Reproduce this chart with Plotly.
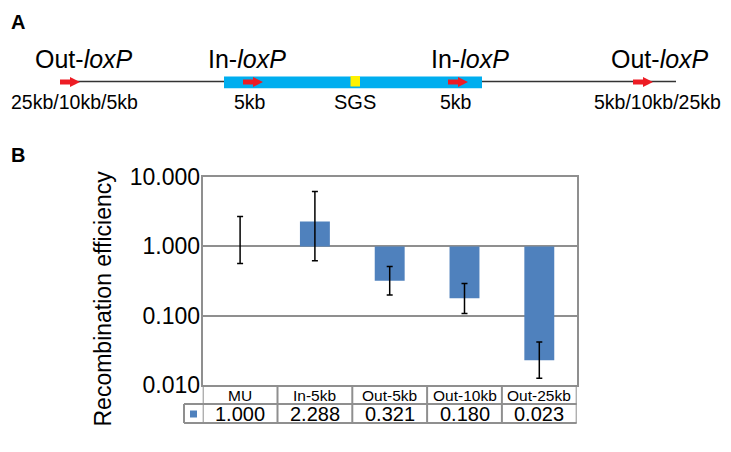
import plotly.graph_objects as go

# ---------------- data ----------------
categories = ["MU", "In-5kb", "Out-5kb", "Out-10kb", "Out-25kb"]
efficiency = [1.000, 2.288, 0.321, 0.180, 0.023]
err_high = [2.70, 6.20, 0.515, 0.292, 0.042]
err_low = [0.57, 0.62, 0.200, 0.108, 0.0126]
value_labels = ["1.000", "2.288", "0.321", "0.180", "0.023"]
y_tickvals = [0.01, 0.1, 1, 10]
y_ticktext = ["0.010", "0.100", "1.000", "10.000"]

# diagram (panel A) content
site_labels = ["Out-<i>loxP</i>", "In-<i>loxP</i>", "In-<i>loxP</i>", "Out-<i>loxP</i>"]
site_sizes = ["25kb/10kb/5kb", "5kb", "5kb", "5kb/10kb/25kb"]

W, H = 731, 452
OFF = 8  # page body margin offset of the rendered figure
FONT = "Arial, Liberation Sans, sans-serif"
BAR_BLUE = "#4F81BD"
GRID = "#8f8f8f"

fig = go.Figure()

fig.add_trace(go.Bar(
    x=categories,
    y=[v - 1 for v in efficiency],
    base=[1] * len(efficiency),
    marker=dict(color=BAR_BLUE, line=dict(width=0)),
    width=0.4,
    showlegend=False,
    hoverinfo="skip",
))

fig.add_trace(go.Scatter(
    x=categories,
    y=efficiency,
    mode="markers",
    marker=dict(size=1, color="rgba(0,0,0,0)"),
    error_y=dict(type="data", symmetric=False,
                 array=[h - v for h, v in zip(err_high, efficiency)],
                 arrayminus=[v - l for l, v in zip(err_low, efficiency)],
                 color="black", thickness=1.5, width=3),
    showlegend=False,
    hoverinfo="skip",
))

fig.add_trace(go.Scatter(x=[OFF + 1], y=[OFF + 1], xaxis="x2", yaxis="y2",
                         mode="markers",
                         marker=dict(size=1, color="rgba(0,0,0,0)"),
                         showlegend=False, hoverinfo="skip"))

# target page pixel positions of the plot frame
px_l, px_r = 202.7, 576.7
px_t, px_b = 177.0, 385.3

fig.update_layout(
    template="none",
    width=W, height=H, autosize=False,
    margin=dict(l=0, r=0, t=0, b=0, pad=0, autoexpand=False),
    showlegend=False,
    paper_bgcolor="white", plot_bgcolor="rgba(0,0,0,0)",
    font=dict(family=FONT, color="black"),
    xaxis=dict(domain=[(px_l - OFF) / W, (px_r - OFF) / W], type="category",
               range=[-0.5, 4.5],
               showticklabels=False, ticks="", showgrid=False, automargin=False,
               showline=True, mirror=True, linecolor=GRID, linewidth=2,
               zeroline=False),
    yaxis=dict(domain=[1 - (px_b - OFF) / H, 1 - (px_t - OFF) / H], type="log",
               range=[-2, 1],
               tickvals=y_tickvals, ticktext=y_ticktext, ticks="", automargin=False,
               ticklabelstandoff=-4,
               tickfont=dict(size=23, family=FONT, color="black"),
               showgrid=True, gridcolor=GRID, gridwidth=1.5,
               showline=True, mirror=True, linecolor=GRID, linewidth=2,
               zeroline=False),
    # overlay axes in page-pixel units for the diagram and table
    xaxis2=dict(domain=[0, 1], range=[OFF, W + OFF], visible=False, anchor="y2",
                automargin=False),
    yaxis2=dict(domain=[0, 1], range=[H + OFF, OFF], visible=False, anchor="x2",
                automargin=False),
)

shapes = []
ann = []

ann.append(dict(x=17.5, y=OFF + 0.5, text="<b>A</b>", font=dict(size=20),
                yanchor="top"))
ann.append(dict(x=17.5, y=155, text="<b>B</b>", font=dict(size=20)))

ann.append(dict(x=102, y=298.5, text="Recombination efficiency", textangle=-90,
                font=dict(size=23)))

line_y = 81.5
shapes.append(dict(type="line", x0=60, x1=676, y0=line_y, y1=line_y,
                   line=dict(color="#333333", width=1.3)))
shapes.append(dict(type="rect", x0=224, x1=482, y0=76.5, y1=88.3,
                   fillcolor="#00AEEF", line=dict(width=0)))
shapes.append(dict(type="rect", x0=350.5, x1=360, y0=76, y1=86.5,
                   fillcolor="#FFF200", line=dict(width=0)))

arrow_starts = [60, 243, 448, 633]
label_centers = [84, 247, 470, 660]
size_centers = [74.5, 250, 456, 657.5]
for xs in arrow_starts:
    ya = line_y + 0.5
    path = (f"M {xs},{ya-2.5} L {xs+10},{ya-2.5} L {xs+10},{ya-5} L {xs+20},{ya} "
            f"L {xs+10},{ya+5} L {xs+10},{ya+2.5} L {xs},{ya+2.5} Z")
    shapes.append(dict(type="path", path=path, fillcolor="#ED1C24",
                       line=dict(width=0)))
for lab, cx in zip(site_labels, label_centers):
    ann.append(dict(x=cx, y=58.5, text=lab, font=dict(size=25)))
for lab, cx in zip(site_sizes, size_centers):
    ann.append(dict(x=cx, y=101.5, text=lab, font=dict(size=19.5)))
ann.append(dict(x=355, y=101.5, text="SGS", font=dict(size=20)))

hdr_bot, row_bot = 404.0, 423.0
tcol = GRID
for i in range(len(categories) + 1):
    shapes.append(dict(type="line", xref="x", yref="y2", x0=i - 0.5, x1=i - 0.5,
                       y0=px_b, y1=row_bot, line=dict(color=tcol, width=2)))
shapes.append(dict(type="line", x0=184, x1=184, y0=hdr_bot, y1=row_bot,
                   line=dict(color=tcol, width=2)))
for yy in (hdr_bot, row_bot):
    shapes.append(dict(type="line", x0=184, x1=px_r, y0=yy, y1=yy,
                       line=dict(color=tcol, width=2)))
shapes.append(dict(type="rect", x0=190, x1=197, y0=410.5, y1=417.5,
                   fillcolor=BAR_BLUE, line=dict(width=0)))
for i, (cat, val) in enumerate(zip(categories, value_labels)):
    ann.append(dict(x=i, y=395.5, xref="x", yref="y2", text=cat,
                    font=dict(size=15.5)))
    ann.append(dict(x=i, y=414, xref="x", yref="y2", text=val,
                    font=dict(size=20)))

for s in shapes:
    s.setdefault("xref", "x2")
    s.setdefault("yref", "y2")
    s["layer"] = "above"
for a in ann:
    a.setdefault("xref", "x2")
    a.setdefault("yref", "y2")
    a["showarrow"] = False
    a["xanchor"] = "center"
    a.setdefault("yanchor", "middle")
    a.setdefault("font", {})
    a["font"].setdefault("family", FONT)
    a["font"].setdefault("color", "black")

fig.update_layout(shapes=shapes, annotations=ann)
fig.write_html("out.html")
